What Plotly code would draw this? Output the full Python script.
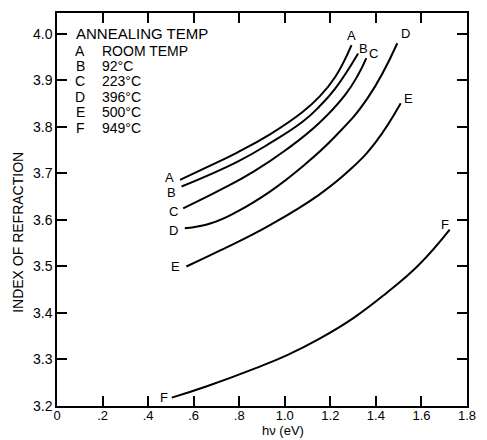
import plotly.graph_objects as go

# ---- data ----
A_x = [0.540, 0.647, 0.791, 0.935, 1.078, 1.150, 1.222, 1.293]
A_y = [3.686, 3.711, 3.745, 3.784, 3.832, 3.864, 3.908, 3.976]
B_x = [0.547, 0.791, 0.935, 1.078, 1.150, 1.222, 1.322]
B_y = [3.672, 3.725, 3.765, 3.811, 3.843, 3.883, 3.958]
C_x = [0.554, 0.719, 0.863, 1.006, 1.150, 1.265, 1.322, 1.358]
C_y = [3.625, 3.665, 3.704, 3.751, 3.808, 3.869, 3.912, 3.948]
D_x = [0.561, 0.676, 0.791, 0.935, 1.078, 1.222, 1.365, 1.494]
D_y = [3.582, 3.593, 3.618, 3.661, 3.715, 3.780, 3.863, 3.980]
E_x = [0.568, 0.719, 0.935, 1.150, 1.293, 1.400, 1.509]
E_y = [3.500, 3.535, 3.589, 3.654, 3.711, 3.768, 3.851]
F_x = [0.504, 0.655, 0.870, 1.013, 1.157, 1.301, 1.444, 1.588, 1.724]
F_y = [3.218, 3.242, 3.281, 3.310, 3.346, 3.389, 3.442, 3.503, 3.579]

curve_names = ["A", "B", "C", "D", "E", "F"]
curve_x = [A_x, B_x, C_x, D_x, E_x, F_x]
curve_y = [A_y, B_y, C_y, D_y, E_y, F_y]
temps = ["ROOM TEMP", "92°C", "223°C", "396°C", "500°C", "949°C"]

x_ticks = [0, 0.2, 0.4, 0.6, 0.8, 1.0, 1.2, 1.4, 1.6, 1.8]
x_ticktext = ["0", ".2", ".4", ".6", ".8", "1.0", "1.2", "1.4", "1.6", "1.8"]
y_ticks = [3.2, 3.3, 3.4, 3.5, 3.6, 3.7, 3.8, 3.9, 4.0]
y_ticktext = ["3.2", "3.3", "3.4", "3.5", "3.6", "3.7", "3.8", "3.9", "4.0"]

# label pixel offsets (start, end)
start_shift = [(-11, 2), (-10, -6), (-10, -3), (-11, -2), (-11, 0), (-8, 0)]
end_shift = [(0, 10), (5, 5), (7, 5), (8, 10), (8, 5), (-5, 5)]

FONT = "Liberation Sans"
W, H = 487, 440
ml, mr, mt, mb = 57, 11, 13, 34
pw, ph = W - ml - mr, H - mt - mb


def px_to_paper(xp, yp):
    return (xp - ml) / pw, (H - mb - yp) / ph


fig = go.Figure()
for name, xs, ys in zip(curve_names, curve_x, curve_y):
    fig.add_trace(go.Scatter(x=xs, y=ys, mode="lines", name=name,
                             line=dict(color="black", width=2, shape="spline", smoothing=1.3),
                             showlegend=False, hoverinfo="skip"))

anns = []
for i, (name, xs, ys) in enumerate(zip(curve_names, curve_x, curve_y)):
    anns.append(dict(x=xs[0], y=ys[0], text=name, showarrow=False,
                     xanchor="center", yanchor="middle",
                     xshift=start_shift[i][0], yshift=start_shift[i][1],
                     font=dict(size=13, color="black", family=FONT)))
    anns.append(dict(x=xs[-1], y=ys[-1], text=name, showarrow=False,
                     xanchor="center", yanchor="middle",
                     xshift=end_shift[i][0], yshift=end_shift[i][1],
                     font=dict(size=13, color="black", family=FONT)))

# legend block
lx, ly = px_to_paper(74, 33)
anns.append(dict(x=lx, y=ly, xref="paper", yref="paper", text="ANNEALING TEMP",
                 showarrow=False, xanchor="left", yanchor="middle",
                 font=dict(size=15, color="black", family=FONT)))
for i, (name, t) in enumerate(zip(curve_names, temps)):
    ypx = 50.5 + i * 15.5
    ax_, ay_ = px_to_paper(81, ypx)
    anns.append(dict(x=ax_, y=ay_, xref="paper", yref="paper", text=name, showarrow=False,
                     xanchor="center", yanchor="middle",
                     font=dict(size=14, color="black", family=FONT)))
    bx_, by_ = px_to_paper(101, ypx)
    anns.append(dict(x=bx_, y=by_, xref="paper", yref="paper", text=t, showarrow=False,
                     xanchor="left", yanchor="middle",
                     font=dict(size=14, color="black", family=FONT)))

# axis titles
tx, ty = px_to_paper(17, 232)
anns.append(dict(x=tx, y=ty, xref="paper", yref="paper", xanchor="center", yanchor="middle",
                 text="INDEX OF REFRACTION", textangle=-90, showarrow=False,
                 font=dict(size=14, color="black", family=FONT)))
tx, ty = px_to_paper(288, 440)
anns.append(dict(x=tx, y=ty, xref="paper", yref="paper", xanchor="center", yanchor="bottom",
                 text="hν (eV)", showarrow=False,
                 font=dict(size=13, color="black", family=FONT)))

fig.update_layout(
    width=W, height=H,
    margin=dict(l=ml, r=mr, t=mt, b=mb, pad=0),
    paper_bgcolor="white", plot_bgcolor="white",
    font=dict(family=FONT, size=14, color="black"),
    annotations=anns,
    xaxis=dict(range=[0, 1.8], tickvals=x_ticks, ticktext=x_ticktext,
               ticks="inside", ticklen=10, tickwidth=1.5, tickcolor="black",
               showline=True, linecolor="black", linewidth=1.5, mirror="ticks",
               showgrid=False, zeroline=False, fixedrange=True,
               ticklabelstandoff=-3,
               tickfont=dict(size=13)),
    yaxis=dict(range=[3.2, 4.045], tickvals=y_ticks, ticktext=y_ticktext,
               ticks="inside", ticklen=10, tickwidth=1.5, tickcolor="black",
               showline=True, linecolor="black", linewidth=1.5, mirror="ticks",
               showgrid=False, zeroline=False, fixedrange=True,
               tickfont=dict(size=14)),
)
fig.write_html("out.html")
